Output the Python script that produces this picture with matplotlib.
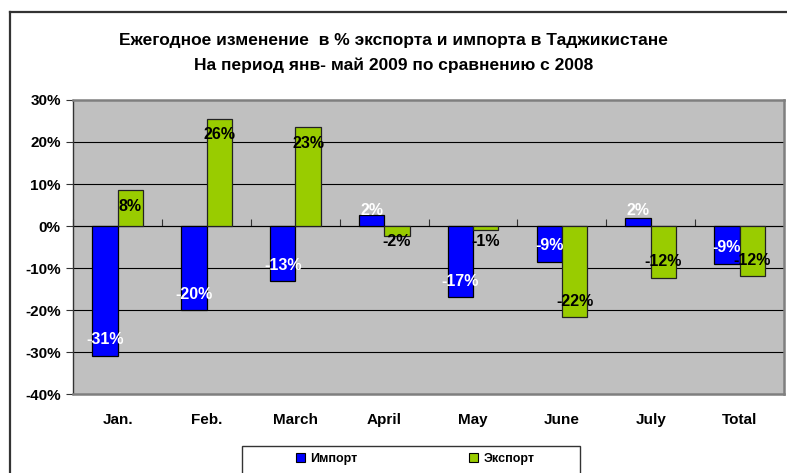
import matplotlib
matplotlib.use("Agg")
import matplotlib.pyplot as plt
import numpy as np
from matplotlib.patches import Patch, Rectangle
from matplotlib.lines import Line2D

plt.rcParams['font.family'] = ['Liberation Sans', 'DejaVu Sans']

categories = ["Jan.", "Feb.", "March", "April", "May", "June", "July", "Total"]
import_vals = [-30.9, -20.0, -13.1, 2.6, -17.0, -8.5, 2.0, -9.0]
export_vals = [8.5, 25.5, 23.5, -2.4, -1.0, -21.7, -12.3, -11.9]
import_labels = ["-31%", "-20%", "-13%", "2%", "-17%", "-9%", "2%", "-9%"]
export_labels = ["8%", "26%", "23%", "-2%", "-1%", "-22%", "-12%", "-12%"]
yticks = [30, 20, 10, 0, -10, -20, -30, -40]
ytick_labels = ["30%", "20%", "10%", "0%", "-10%", "-20%", "-30%", "-40%"]
series_names = ["Импорт", "Экспорт"]
title = ("Ежегодное изменение  в % экспорта и импорта в Таджикистане\n"
         "На период янв- май 2009 по сравнению с 2008")

W, H = 787, 473
fig = plt.figure(figsize=(W / 100, H / 100), dpi=100)
fig.patch.set_facecolor("white")

def fx(px):
    return px / W

def fy(py):
    return 1 - py / H

# outer chart frame (top and left visible)
fig.add_artist(Line2D([fx(10), 1.0], [fy(12), fy(12)], color="#333333", lw=1.6))
fig.add_artist(Line2D([fx(10), fx(10)], [fy(12), 0.0], color="#333333", lw=1.6))

ax = fig.add_axes([fx(73.3), fy(394), fx(784) - fx(73.3), fy(100) - fy(394)])
ax.set_facecolor("#C0C0C0")

x = np.arange(len(categories))
bw = 0.285
imp_col = "#0000FF"
exp_col = "#99CC00"
ax.bar(x - bw / 2, import_vals, bw, color=imp_col, edgecolor="black", linewidth=0.9, zorder=3)
ax.bar(x + bw / 2, export_vals, bw, color=exp_col, edgecolor="#222222", linewidth=0.9, zorder=3)

ax.set_xlim(-0.5, len(categories) - 0.5)
ax.set_ylim(-40, 30)

for yv in yticks:
    if yv not in (30, -40):
        ax.axhline(yv, color="black", lw=0.8, zorder=1)

# data labels
off = 3.8
for xi, v, lab in zip(x, import_vals, import_labels):
    yv = np.sign(v) * max(abs(v) - off, off)
    ax.text(xi - bw / 2, yv, lab, ha="center", va="center", color="white",
            fontsize=11.5, fontweight="bold", zorder=5)
for xi, v, lab in zip(x, export_vals, export_labels):
    yv = np.sign(v) * max(abs(v) - off, off)
    ax.text(xi + bw / 2, yv, lab, ha="center", va="center", color="black",
            fontsize=11.5, fontweight="bold", zorder=5)

ax.set_yticks(yticks)
ax.set_yticklabels(ytick_labels, fontsize=11, fontweight="bold")
ax.tick_params(axis="y", length=5, width=0.8, color="#333333", pad=4)
ax.set_xticks(x)
ax.set_xticklabels(categories, fontsize=11, fontweight="bold")
ax.tick_params(axis="x", length=0, pad=13.5)

for s in ["top", "right", "bottom"]:
    ax.spines[s].set_color("#7F7F7F")
    ax.spines[s].set_linewidth(1.8)
ax.spines["left"].set_color("#333333")
ax.spines["left"].set_linewidth(1.0)

# zero axis with category separator ticks
sec = ax.secondary_xaxis(40 / 70)
sec.set_xticks(np.arange(len(categories) + 1) - 0.5)
sec.set_xticklabels([])
sec.tick_params(axis="x", length=5, width=0.8, direction="out", color="#333333")
sec.spines["bottom"].set_color("black")
sec.spines["bottom"].set_linewidth(1.0)

fig.text(0.5, fy(41), title.split("\n")[0], ha="center", va="center",
         fontsize=12.5, fontweight="bold")
fig.text(0.5, fy(65), title.split("\n")[1], ha="center", va="center",
         fontsize=12.5, fontweight="bold")

# legend box (extends below the figure edge, as in the reference)
fig.add_artist(Rectangle((fx(242), -0.05), fx(580) - fx(242), fy(446) + 0.05,
                         transform=fig.transFigure, facecolor="white",
                         edgecolor="#333333", lw=1.0))
h1 = [Patch(facecolor=imp_col, edgecolor="black", lw=0.8)]
h2 = [Patch(facecolor=exp_col, edgecolor="black", lw=0.8)]
leg1 = fig.legend(h1, [series_names[0]], loc="center left", bbox_to_anchor=(fx(296), fy(459)),
                  frameon=False, handlelength=0.75, handleheight=0.75,
                  handletextpad=0.4, borderpad=0, borderaxespad=0,
                  prop={"weight": "bold", "size": 9})
leg2 = fig.legend(h2, [series_names[1]], loc="center left", bbox_to_anchor=(fx(469), fy(459)),
                  frameon=False, handlelength=0.75, handleheight=0.75,
                  handletextpad=0.4, borderpad=0, borderaxespad=0,
                  prop={"weight": "bold", "size": 9})

fig.savefig("out.png", dpi=100)
